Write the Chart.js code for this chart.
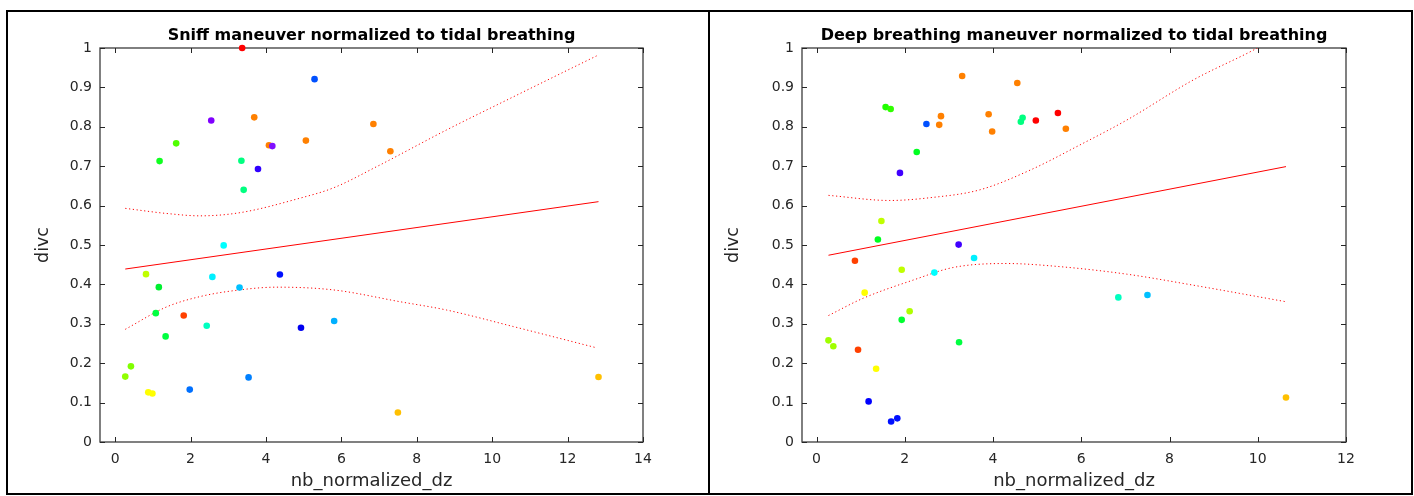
<!DOCTYPE html>
<html><head><meta charset="utf-8">
<script src="https://cdn.jsdelivr.net/npm/chart.js@4.4.0/dist/chart.umd.min.js"></script>
<style>
html,body{margin:0;padding:0;background:#fff}
body{width:1414px;height:496px;position:relative;overflow:hidden}
canvas{position:absolute;top:0}
#frame{position:absolute;left:6px;top:10px;width:1403px;height:481px;border:2px solid #000}
#divider{position:absolute;left:708px;top:10px;width:2px;height:485px;background:#000}
</style></head><body>
<canvas id="sniff" width="709" height="496" style="left:0"></canvas>
<canvas id="deep" width="705" height="496" style="left:709px"></canvas>
<div id="frame"></div><div id="divider"></div>
<script>
// values
const yTicks=[0,0.1,0.2,0.3,0.4,0.5,0.6,0.7,0.8,0.9,1];
const sniffXTicks=[0,2,4,6,8,10,12,14];
const deepXTicks=[0,2,4,6,8,10,12];

const sniffX=[3.37,5.29,2.55,3.69,6.85,1.62,4.08,4.17,5.06,7.30,1.18,3.35,3.79,3.41,2.88,0.82,2.58,4.37,1.16,3.30,1.08,1.82,2.43,4.93,5.81,1.34,0.42,0.27,3.54,0.88,0.99,1.98,7.50,12.82];
const sniffY=[1.0,0.921,0.816,0.824,0.807,0.758,0.753,0.751,0.765,0.738,0.713,0.714,0.693,0.640,0.499,0.426,0.419,0.425,0.393,0.392,0.327,0.321,0.295,0.290,0.307,0.268,0.192,0.166,0.164,0.126,0.123,0.133,0.075,0.165];
const sniffFitX=[0.27,12.82];
const sniffFitY=[0.439,0.610];
const sniffUpX=[0.27,1.37,2.25,3.31,4.91,5.79,6.94,8.79,10.56,12.77];
const sniffUpY=[0.593,0.580,0.574,0.582,0.619,0.645,0.699,0.792,0.876,0.980];
const sniffLoX=[0.27,1.37,2.25,3.14,4.29,5.79,7.56,8.79,10.56,12.77];
const sniffLoY=[0.286,0.343,0.369,0.384,0.393,0.386,0.356,0.335,0.293,0.239];

const deepX=[1.565,1.68,3.30,4.55,2.49,2.82,2.78,3.90,3.98,4.67,4.63,4.97,5.47,5.65,2.27,1.89,1.47,1.39,3.22,0.87,1.93,2.67,3.57,1.09,2.11,1.93,0.27,0.38,0.94,3.23,1.35,1.18,1.69,1.83,6.84,7.50,10.64];
const deepY=[0.850,0.845,0.929,0.911,0.807,0.827,0.805,0.832,0.788,0.823,0.813,0.816,0.835,0.795,0.736,0.683,0.561,0.514,0.501,0.460,0.437,0.430,0.467,0.379,0.332,0.310,0.258,0.243,0.234,0.253,0.186,0.103,0.052,0.060,0.367,0.373,0.113];
const deepFitX=[0.27,10.64];
const deepFitY=[0.474,0.699];
const deepUpX=[0.27,1.66,2.57,3.70,4.84,5.97,7.03,8.54,9.94,10.64];
const deepUpY=[0.626,0.613,0.620,0.640,0.690,0.754,0.817,0.919,0.997,1.042];
const deepLoX=[0.27,1.06,2.19,3.10,4.31,5.52,7.03,8.54,10.64];
const deepLoY=[0.321,0.365,0.411,0.443,0.453,0.445,0.426,0.398,0.356];

// marker colours (hsv-like map)
const sniffCols=['#ff0000','#0050ff','#8000ff','#ff8000','#ff8000','#50ff00','#ff8000','#8010ff','#ff8000','#ff8000','#10ff20','#00ff80','#3000ff','#00ff80','#00ffff','#c0ff00','#00f0ff','#0010ff','#00f030','#00c0ff','#00ff40','#ff4000','#00ffc0','#0000f0','#00b0ff','#00ff40','#80ff00','#90ff00','#0080ff','#ffff00','#ffff00','#0070ff','#ffc000','#ffc000'];
const deepCols=['#20ff00','#30ff00','#ff8000','#ff8000','#0050ff','#ff8000','#ff8000','#ff8000','#ff8000','#00ff80','#00ff80','#ff0000','#ff0000','#ff8000','#00ff20','#4000ff','#c0ff00','#00ff20','#4000ff','#ff4000','#c0ff00','#00ffff','#00f0ff','#ffff00','#b0ff00','#00ff30','#a0ff00','#a0ff00','#ff4000','#00ff40','#ffff00','#0000ff','#0010ff','#0010ff','#00ffc0','#00c0ff','#ffc000'];

const FONT='"DejaVu Sans", Arial, sans-serif';
const TXT='#262626';
const pts=(xs,ys)=>xs.map((x,i)=>({x,y:ys[i]}));

const boxPlugin={
  id:'box',
  beforeDatasetsDraw(c){
    const {ctx,chartArea:a,scales:{x,y}}=c;
    ctx.save();
    ctx.strokeStyle='#4a4a4a';ctx.lineWidth=1.4;
    ctx.strokeRect(a.left,a.top,a.right-a.left,a.bottom-a.top);
    ctx.lineWidth=1;ctx.strokeStyle='#262626';
    ctx.beginPath();
    x.ticks.forEach(t=>{const p=Math.round(x.getPixelForValue(t.value))+0.5;
      ctx.moveTo(p,a.bottom);ctx.lineTo(p,a.bottom-5);ctx.moveTo(p,a.top);ctx.lineTo(p,a.top+5);});
    y.ticks.forEach(t=>{const p=Math.round(y.getPixelForValue(t.value))+0.5;
      ctx.moveTo(a.left,p);ctx.lineTo(a.left+5,p);ctx.moveTo(a.right,p);ctx.lineTo(a.right-5,p);});
    ctx.stroke();
    ctx.restore();
  }
};

function makePanel(id,title,xs,ys,cols,fx,fy,ux,uy,lx,ly,xMin,xMax,xTicks,axisW,padR,yTitlePad){
  const titlePlugin={
    id:'ttl',
    afterDraw(c){
      const {ctx,chartArea:a}=c;
      ctx.save();ctx.font='bold 16px '+FONT;ctx.fillStyle='#000';
      ctx.textAlign='center';ctx.textBaseline='middle';
      ctx.fillText(title,(a.left+a.right)/2,36);ctx.restore();
    }
  };
  const band=(d)=>({type:'line',data:d,showLine:true,borderColor:'#ff0000',borderWidth:1,borderDash:[1.2,2.6],
    pointRadius:0,cubicInterpolationMode:'monotone',fill:false});
  new Chart(document.getElementById(id),{
    type:'scatter',
    data:{datasets:[
      {data:pts(xs,ys),pointRadius:3.3,pointHoverRadius:3.3,pointBackgroundColor:cols,pointBorderWidth:0,clip:false},
      {type:'line',data:pts(fx,fy),showLine:true,borderColor:'#ff0000',borderWidth:1,pointRadius:0,fill:false},
      band(pts(ux,uy)),
      band(pts(lx,ly))
    ]},
    options:{
      responsive:false,animation:false,
      layout:{padding:{top:48,right:padR,bottom:0,left:0}},
      plugins:{legend:{display:false},tooltip:{enabled:false},title:{display:false}},
      scales:{
        x:{type:'linear',min:xMin,max:xMax,
          afterBuildTicks:s=>{s.ticks=xTicks.map(v=>({value:v}))},
          afterFit:s=>{s.height=54},
          grid:{display:false,drawTicks:false},border:{display:false},
          ticks:{padding:9,color:TXT,font:{family:FONT,size:14},callback:v=>String(v)},
          title:{display:true,text:'nb_normalized_dz',color:TXT,font:{family:FONT,size:18},padding:{top:0,bottom:4}}},
        y:{type:'linear',min:0,max:1,
          afterBuildTicks:s=>{s.ticks=yTicks.map(v=>({value:v}))},
          afterFit:s=>{s.width=axisW},
          grid:{display:false,drawTicks:false},border:{display:false},
          ticks:{padding:8,color:TXT,font:{family:FONT,size:14},callback:v=>String(Math.round(v*10)/10)},
          title:{display:true,text:'divc',color:TXT,font:{family:FONT,size:17.5},padding:{top:yTitlePad,bottom:0}}}
      }
    },
    plugins:[boxPlugin,titlePlugin]
  });
}

makePanel('sniff','Sniff maneuver normalized to tidal breathing',sniffX,sniffY,sniffCols,sniffFitX,sniffFitY,sniffUpX,sniffUpY,sniffLoX,sniffLoY,-0.4,14,sniffXTicks,100,66,32.5);
makePanel('deep','Deep breathing maneuver normalized to tidal breathing',deepX,deepY,deepCols,deepFitX,deepFitY,deepUpX,deepUpY,deepLoX,deepLoY,-0.33,12,deepXTicks,93,68,13.5);
</script>
</body></html>
